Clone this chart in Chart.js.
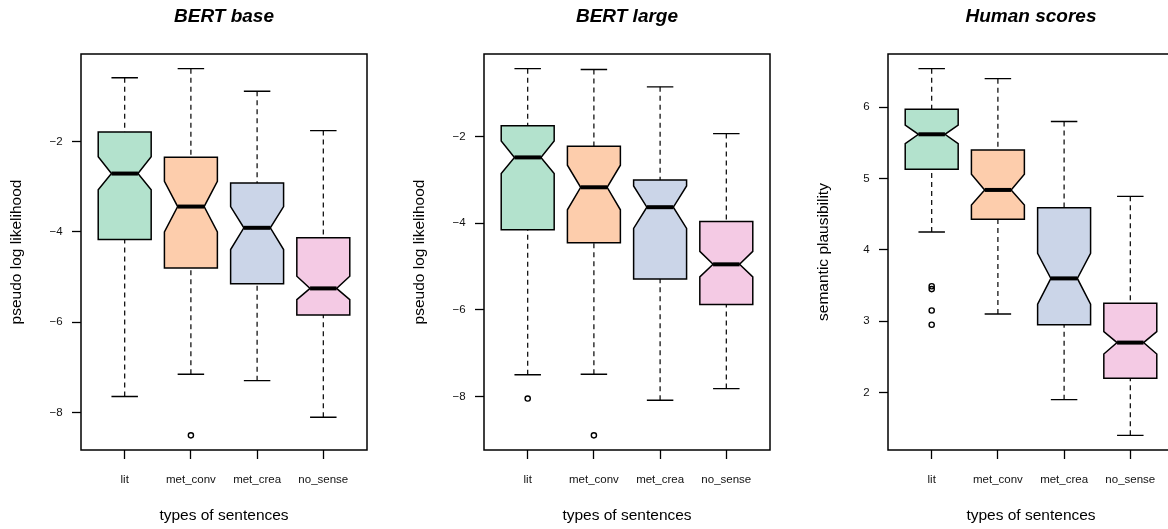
<!DOCTYPE html>
<html>
<head>
<meta charset="utf-8">
<script src="https://cdn.jsdelivr.net/npm/chart.js@4.4.1/dist/chart.umd.min.js"></script>
<style>
  html, body { margin: 0; padding: 0; background: #fff; overflow: hidden; }
  body { width: 1168px; height: 529px; position: relative; }
  .panel { position: absolute; top: 0; height: 529px; width: 377px; }
</style>
</head>
<body>
<div class="panel" style="left:0px"><canvas id="bertBase"></canvas></div>
<div class="panel" style="left:403px"><canvas id="bertLarge"></canvas></div>
<div class="panel" style="left:807px"><canvas id="human"></canvas></div>
<script>
// Sentence types on the x axis
const categories = ['lit', 'met_conv', 'met_crea', 'no_sense'];
const boxColors = ['#B3E2CD', '#FDCDAC', '#CBD5E8', '#F4CAE4'];

// BERT base: pseudo log likelihood
const baseWhiskerHigh = [-0.59, -0.39, -0.89, -1.76];
const baseQ3          = [-1.79, -2.35, -2.92, -4.13];
const baseNotchHigh   = [-2.34, -2.88, -3.44, -4.98];
const baseMedian      = [-2.71, -3.44, -3.91, -5.25];
const baseNotchLow    = [-3.07, -4.00, -4.39, -5.50];
const baseQ1          = [-4.17, -4.80, -5.15, -5.84];
const baseWhiskerLow  = [-7.64, -7.15, -7.29, -8.10];
const baseOutlierCat  = [2];
const baseOutlierVal  = [-8.50];
const baseTicks       = [-8, -6, -4, -2];

// BERT large: pseudo log likelihood
const largeWhiskerHigh = [-0.43, -0.45, -0.85, -1.93];
const largeQ3          = [-1.75, -2.22, -3.00, -3.96];
const largeNotchHigh   = [-2.10, -2.66, -3.14, -4.65];
const largeMedian      = [-2.48, -3.17, -3.63, -4.95];
const largeNotchLow    = [-2.85, -3.69, -4.12, -5.24];
const largeQ1          = [-4.15, -4.45, -5.29, -5.88];
const largeWhiskerLow  = [-7.50, -7.49, -8.09, -7.82];
const largeOutlierCat  = [1, 2];
const largeOutlierVal  = [-8.05, -8.90];
const largeTicks       = [-8, -6, -4, -2];

// Human ratings: semantic plausibility
const humanWhiskerHigh = [6.54, 6.40, 5.80, 4.75];
const humanQ3          = [5.97, 5.40, 4.59, 3.25];
const humanNotchHigh   = [5.75, 5.06, 3.95, 2.855];
const humanMedian      = [5.62, 4.84, 3.60, 2.70];
const humanNotchLow    = [5.49, 4.63, 3.24, 2.54];
const humanQ1          = [5.13, 4.43, 2.95, 2.20];
const humanWhiskerLow  = [4.25, 3.10, 1.90, 1.40];
const humanOutlierCat  = [1, 1, 1, 1];
const humanOutlierVal  = [3.49, 3.45, 3.15, 2.95];
const humanTicks       = [2, 3, 4, 5, 6];

const FONT = "'Liberation Sans', Arial, Helvetica, sans-serif";

// Draws notched box-and-whisker glyphs through the chart's own scales
const notchedBoxes = {
  id: 'notchedBoxes',
  beforeDatasetsDraw(chart, args, opts) {
    const { ctx, scales: { x, y } } = chart;
    const s = opts.stats;
    const py = v => y.getPixelForValue(v);
    ctx.save();
    s.median.forEach((m, i) => {
      const c = i + 1;
      const xc = x.getPixelForValue(c);
      const xl = x.getPixelForValue(c - opts.halfWidth);
      const xr = x.getPixelForValue(c + opts.halfWidth);
      const nl = x.getPixelForValue(c - opts.halfWidth * opts.notchFrac);
      const nr = x.getPixelForValue(c + opts.halfWidth * opts.notchFrac);
      const sl = x.getPixelForValue(c - opts.halfWidth * opts.stapleFrac);
      const sr = x.getPixelForValue(c + opts.halfWidth * opts.stapleFrac);

      // dashed whiskers, drawn from the whisker ends towards the box
      ctx.strokeStyle = '#000';
      ctx.lineWidth = 1.2;
      ctx.setLineDash([5, 4]);
      ctx.beginPath();
      ctx.moveTo(xc, py(s.whiskerHigh[i])); ctx.lineTo(xc, py(s.q3[i]));
      ctx.stroke();
      ctx.beginPath();
      ctx.moveTo(xc, py(s.whiskerLow[i])); ctx.lineTo(xc, py(s.q1[i]));
      ctx.stroke();
      ctx.setLineDash([]);

      // staples
      ctx.lineWidth = 1.4;
      ctx.beginPath();
      ctx.moveTo(sl, py(s.whiskerHigh[i])); ctx.lineTo(sr, py(s.whiskerHigh[i]));
      ctx.moveTo(sl, py(s.whiskerLow[i])); ctx.lineTo(sr, py(s.whiskerLow[i]));
      ctx.stroke();

      // notched box
      ctx.beginPath();
      ctx.moveTo(xl, py(s.q1[i]));
      ctx.lineTo(xl, py(s.notchLow[i]));
      ctx.lineTo(nl, py(s.median[i]));
      ctx.lineTo(xl, py(s.notchHigh[i]));
      ctx.lineTo(xl, py(s.q3[i]));
      ctx.lineTo(xr, py(s.q3[i]));
      ctx.lineTo(xr, py(s.notchHigh[i]));
      ctx.lineTo(nr, py(s.median[i]));
      ctx.lineTo(xr, py(s.notchLow[i]));
      ctx.lineTo(xr, py(s.q1[i]));
      ctx.closePath();
      ctx.fillStyle = opts.colors[i];
      ctx.fill();
      ctx.lineJoin = 'miter';
      ctx.lineWidth = 1.5;
      ctx.stroke();

      // median bar
      ctx.lineWidth = 4;
      ctx.lineCap = 'butt';
      ctx.beginPath();
      ctx.moveTo(nl, py(s.median[i])); ctx.lineTo(nr, py(s.median[i]));
      ctx.stroke();
    });
    ctx.restore();
  },
  afterDraw(chart) {
    const { ctx, chartArea: a } = chart;
    ctx.save();
    ctx.strokeStyle = '#000';
    ctx.lineWidth = 1.5;
    ctx.strokeRect(a.left, a.top, a.right - a.left, a.bottom - a.top);
    ctx.restore();
  }
};

// Axis limits: data range widened by 4% at each end
function paddedRange(lows, highs) {
  const lo = Math.min(...lows), hi = Math.max(...highs);
  const pad = (hi - lo) * 0.04;
  return { min: lo - pad, max: hi + pad };
}

function makePanel(id, title, yTitle, stats, outCat, outVal, ticks) {
  const range = paddedRange(stats.whiskerLow.concat(outVal), stats.whiskerHigh.concat(outVal));
  const xr = paddedRange([0.5], [categories.length + 0.5]);
  const tickFont = { family: FONT, size: 11.5 };
  const labFont = { family: FONT, size: 15.5 };
  return new Chart(document.getElementById(id), {
    type: 'scatter',
    data: {
      datasets: [{
        data: outCat.map((c, i) => ({ x: c, y: outVal[i] })),
        pointStyle: 'circle',
        pointRadius: 2.6,
        pointHoverRadius: 2.6,
        borderColor: '#000',
        backgroundColor: 'rgba(0,0,0,0)',
        borderWidth: 1.4,
        clip: false
      }]
    },
    options: {
      responsive: true,
      maintainAspectRatio: false,
      animation: false,
      events: [],
      layout: { padding: { left: 0, right: 10, top: 0, bottom: 0 } },
      plugins: {
        legend: { display: false },
        tooltip: { enabled: false },
        title: {
          display: true, text: title, fullSize: false, color: '#000',
          font: { family: FONT, size: 19, weight: 'bold', style: 'italic', lineHeight: 1.2 },
          padding: { top: 5, bottom: 26.2 }
        },
        notchedBoxes: { stats, colors: boxColors, halfWidth: 0.4, notchFrac: 0.5, stapleFrac: 0.5 }
      },
      scales: {
        x: {
          type: 'linear',
          min: xr.min, max: xr.max,
          afterBuildTicks: a => { a.ticks = categories.map((_, i) => ({ value: i + 1 })); },
          afterFit: s => { s.height = 79; },
          ticks: {
            callback: v => categories[Math.round(v) - 1],
            autoSkip: false, maxRotation: 0, minRotation: 0,
            padding: 14, font: tickFont, color: '#111'
          },
          grid: { drawOnChartArea: false, drawTicks: true, tickLength: 9, tickColor: '#000', tickWidth: 1.3 },
          border: { display: false },
          title: { display: true, text: 'types of sentences', color: '#000', font: labFont, padding: { top: 0, bottom: 4 } }
        },
        y: {
          type: 'linear',
          min: range.min, max: range.max,
          afterBuildTicks: a => { a.ticks = ticks.map(v => ({ value: v })); },
          afterFit: s => { s.width = 81; },
          ticks: {
            callback: v => String(v).replace('-', '\u2212'),
            padding: 9.3, font: tickFont, color: '#111'
          },
          grid: { drawOnChartArea: false, drawTicks: true, tickLength: 9, tickColor: '#000', tickWidth: 1.3 },
          border: { display: false },
          title: { display: true, text: yTitle, color: '#000', font: labFont, padding: { top: 7.7, bottom: 0 } }
        }
      }
    },
    plugins: [notchedBoxes]
  });
}

makePanel('bertBase', 'BERT base', 'pseudo log likelihood', {
  whiskerHigh: baseWhiskerHigh, q3: baseQ3, notchHigh: baseNotchHigh, median: baseMedian,
  notchLow: baseNotchLow, q1: baseQ1, whiskerLow: baseWhiskerLow
}, baseOutlierCat, baseOutlierVal, baseTicks);

makePanel('bertLarge', 'BERT large', 'pseudo log likelihood', {
  whiskerHigh: largeWhiskerHigh, q3: largeQ3, notchHigh: largeNotchHigh, median: largeMedian,
  notchLow: largeNotchLow, q1: largeQ1, whiskerLow: largeWhiskerLow
}, largeOutlierCat, largeOutlierVal, largeTicks);

makePanel('human', 'Human scores', 'semantic plausibility', {
  whiskerHigh: humanWhiskerHigh, q3: humanQ3, notchHigh: humanNotchHigh, median: humanMedian,
  notchLow: humanNotchLow, q1: humanQ1, whiskerLow: humanWhiskerLow
}, humanOutlierCat, humanOutlierVal, humanTicks);
</script>
</body>
</html>
